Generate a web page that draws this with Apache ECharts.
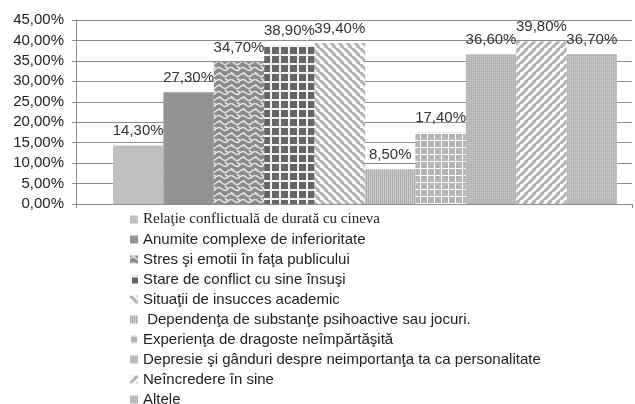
<!DOCTYPE html>
<html>
<head>
<meta charset="utf-8">
<script src="https://cdn.jsdelivr.net/npm/echarts@6/dist/echarts.min.js"></script>
<style>html,body{margin:0;padding:0;background:#fff}#c{width:635px;height:404px}</style>
</head>
<body>
<div id="c"></div>
<script>
var categories = ['Motive'];
var seriesNames = [
  'Relaţie conflictuală de durată cu cineva',
  'Anumite complexe de inferioritate',
  'Stres şi emotii în faţa publicului',
  'Stare de conflict cu sine însuşi',
  'Situaţii de insucces academic',
  ' Dependenţa de substanţe psihoactive sau jocuri.',
  'Experienţa de dragoste neîmpărtăşită',
  'Depresie şi gânduri despre neimportanţa ta ca personalitate',
  'Neîncredere în sine',
  'Altele'
];
var seriesValues = [14.3, 27.3, 34.7, 38.9, 39.4, 8.5, 17.4, 36.6, 39.8, 36.7];
var yTicks = {min: 0, max: 45, interval: 5};

function tile(w, h, draw) {
  var c = document.createElement('canvas');
  c.width = w; c.height = h;
  var g = c.getContext('2d');
  draw(g, w, h);
  return {image: c, repeat: 'repeat'};
}
function solid(col) { return col; }
var patterns = [
  solid('#c0c0c0'),
  solid('#939393'),
  tile(12, 12, function (g) {
    g.fillStyle = '#8a8a8a'; g.fillRect(0, 0, 12, 12);
    g.strokeStyle = '#e8e8e8'; g.lineWidth = 1.6;
    g.beginPath();
    g.moveTo(0, 3); g.quadraticCurveTo(3, 0, 6, 3); g.quadraticCurveTo(9, 6, 12, 3);
    g.moveTo(0, 9); g.quadraticCurveTo(3, 6, 6, 9); g.quadraticCurveTo(9, 12, 12, 9);
    g.moveTo(3, 0); g.lineTo(6, 3);
    g.moveTo(9, 6); g.lineTo(12, 9);
    g.stroke();
  }),
  tile(9, 9, function (g) {
    g.fillStyle = '#666666'; g.fillRect(0, 0, 9, 9);
    g.fillStyle = '#f4f4f4'; g.fillRect(0, 0, 9, 2); g.fillRect(0, 0, 2, 9);
  }),
  tile(8, 8, function (g) {
    g.fillStyle = '#b2b2b2'; g.fillRect(0, 0, 8, 8);
    g.strokeStyle = '#ffffff'; g.lineWidth = 2.6;
    g.beginPath();
    g.moveTo(-4, 0); g.lineTo(4, 8); g.moveTo(0, -4); g.lineTo(12, 8); g.moveTo(4, -8); g.lineTo(12, 0);
    g.moveTo(-4, 4); g.lineTo(4, 12);
    g.stroke();
  }),
  tile(2, 2, function (g) {
    g.fillStyle = '#a9a9a9'; g.fillRect(0, 0, 2, 2);
    g.fillStyle = '#cdcdcd'; g.fillRect(1, 0, 1, 2);
  }),
  tile(7, 7, function (g) {
    g.fillStyle = '#b3b3b3'; g.fillRect(0, 0, 7, 7);
    g.fillStyle = '#ffffff'; g.fillRect(0, 0, 7, 1); g.fillRect(0, 0, 1, 7);
  }),
  tile(2, 2, function (g) {
    g.fillStyle = '#b3b3b3'; g.fillRect(0, 0, 2, 2);
    g.fillStyle = '#cbcbcb'; g.fillRect(0, 0, 1, 1);
  }),
  tile(8, 8, function (g) {
    g.fillStyle = '#b2b2b2'; g.fillRect(0, 0, 8, 8);
    g.strokeStyle = '#ffffff'; g.lineWidth = 2.6;
    g.beginPath();
    g.moveTo(-4, 8); g.lineTo(4, 0); g.moveTo(0, 12); g.lineTo(12, 0); g.moveTo(4, 16); g.lineTo(12, 8);
    g.moveTo(-4, 4); g.lineTo(4, -4);
    g.stroke();
  }),
  tile(2, 2, function (g) {
    g.fillStyle = '#b5b5b5'; g.fillRect(0, 0, 2, 2);
    g.fillStyle = '#cccccc'; g.fillRect(0, 0, 1, 1);
  })
];

var fmt = function (v) { return v.toFixed(2).replace('.', ',') + '%'; };
var series = [{
  name: '__spacer', type: 'bar', data: [null], barWidth: 22, barGap: '0%', silent: true,
  itemStyle: {color: 'rgba(0,0,0,0)'}
}];
seriesNames.forEach(function (n, i) {
  series.push({
    name: n, type: 'bar', data: [seriesValues[i]], barWidth: 50.4, barGap: '0%',
    itemStyle: {color: patterns[i]},
    label: {show: true, position: 'top', distance: 7, formatter: function (p) { return fmt(p.value); },
      fontFamily: 'Liberation Sans, Arial', fontSize: 15, color: '#333'}
  });
});

var chart = echarts.init(document.getElementById('c'));
chart.setOption({
  animation: false,
  grid: {left: 76, right: 3, top: 20, bottom: 200},
  legend: {
    data: seriesNames, orient: 'vertical', left: 130, top: 212, height: 260, padding: 0,
    icon: 'rect', itemWidth: 8, itemHeight: 8, itemGap: 5, itemStyle: {borderWidth: 0},
    textStyle: {fontFamily: 'Liberation Sans, Arial', fontSize: 15, color: '#222', lineHeight: 15,
      rich: {s: {fontFamily: 'Liberation Serif, Times New Roman', fontSize: 15, color: '#222', lineHeight: 15}}},
    formatter: function (name) { return name === seriesNames[0] ? '{s|' + name + '}' : name; }
  },
  xAxis: {
    type: 'category', data: categories,
    axisLine: {lineStyle: {color: '#8c8c8c'}},
    axisTick: {show: true, length: 4, lineStyle: {color: '#8c8c8c'}},
    axisLabel: {show: false}
  },
  yAxis: {
    type: 'value', min: yTicks.min, max: yTicks.max, interval: yTicks.interval,
    axisLine: {show: true, lineStyle: {color: '#8c8c8c'}},
    axisTick: {show: true, length: 4, lineStyle: {color: '#8c8c8c'}},
    splitLine: {lineStyle: {color: '#8c8c8c'}},
    axisLabel: {formatter: fmt, fontFamily: 'Liberation Sans, Arial', fontSize: 15, color: '#222', margin: 12}
  },
  series: series
});
</script>
</body>
</html>
